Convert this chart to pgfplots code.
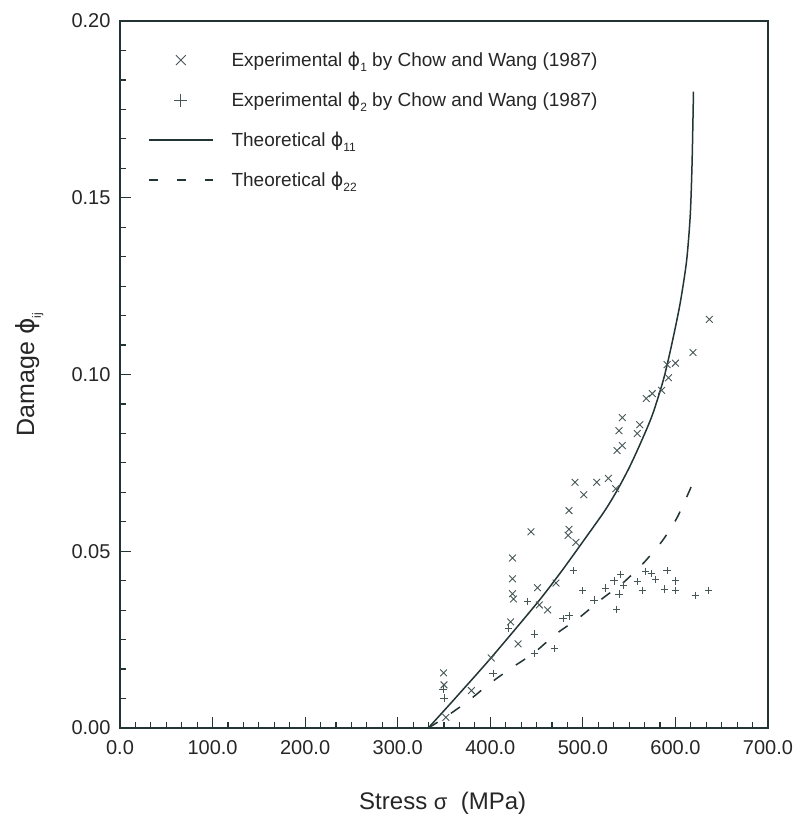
\documentclass[border=0pt]{standalone}
\usepackage{fontspec}
\setmainfont{Liberation Sans}
\newfontfamily\dv{DejaVu Sans}
\usepackage{pgfplots}
\pgfplotsset{compat=1.18}
\definecolor{ink}{RGB}{35,52,52}
\definecolor{mk}{RGB}{70,86,86}
\newcommand{\ph}{{\dv ϕ}}
\newcommand{\sub}[1]{\raisebox{-0.5ex}{\fontsize{12}{12}\selectfont #1}}
\pgfplotsset{
  xleg/.style={legend image code/.code={\draw[mk, line width=0.9pt] plot[mark=x, mark size=7pt, only marks] coordinates {(32pt,0pt)};}},
  pleg/.style={legend image code/.code={\draw[mk, line width=0.9pt] plot[mark=+, mark size=6.5pt, only marks] coordinates {(32pt,0pt)};}},
  sleg/.style={legend image code/.code={\draw[##1] (0pt,0pt) -- (64pt,0pt);}},
  dleg/.style={legend image code/.code={\draw[##1, dash pattern=on 9pt off 19pt] (0pt,0pt) -- (64pt,0pt);}},
}
\begin{document}
\begin{tikzpicture}
\begin{axis}[
  at={(0pt,0pt)}, anchor=south west,
  scale only axis, width=648pt, height=707pt,
  xmin=0, xmax=700, ymin=0, ymax=0.2,
  xtick={0,100,...,700}, ytick={0,0.05,0.10,0.15,0.20},
  minor x tick num=5, minor y tick num=5,
  tick align=inside, xtick pos=bottom, ytick pos=left,
  major tick length=11pt, minor tick length=6pt,
  axis line style={ink, line width=1.8pt},
  every tick/.style={ink, line width=1.2pt},
  scaled x ticks=false, scaled y ticks=false,
  xticklabel style={yshift=-9pt, /pgf/number format/.cd, fixed, fixed zerofill, precision=1, assume math mode=true},
  yticklabel style={xshift=-6pt, /pgf/number format/.cd, fixed, fixed zerofill, precision=2, assume math mode=true},
  ticklabel style={font=\fontsize{20}{20}\selectfont, text=black!85},
  xlabel={Stress {\fontsize{22}{22}\selectfont σ}\ \ (MPa)},
  ylabel={Damage \ph\sub{ij}},
  label style={font=\fontsize{24}{24}\selectfont, text=black!85},
  ylabel style={font=\fontsize{25}{25}\selectfont},
  xlabel style={at={(axis description cs:0.498,-0.106)}, anchor=center},
  ylabel style={at={(axis description cs:-0.14,0.5)}, anchor=center},
  legend style={draw=none, fill=none, at={(axis description cs:0.043,0.959)}, anchor=north west,
    font=\fontsize{19}{22}\selectfont, text=black!85, row sep=20pt, inner sep=0pt,
    /tikz/every odd column/.append style={column sep=16pt}},
  legend cell align=left,
  clip=false,
]
\addplot[only marks, mark=x, mark size=4.8pt, mk, mark options={line width=0.9pt}, xleg]
  coordinates {
  (349.5,0.0156) (350,0.0122) (352,0.0030) (379.6,0.0106) (401,0.0198) (422,0.0300)
  (430,0.0238) (424,0.0481) (424,0.0422) (424,0.0380) (425,0.0365) (444,0.0555)
  (451,0.0397) (453,0.0348) (462,0.0334) (471,0.0410)
  (485,0.0615) (485,0.0562) (484,0.0545) (492.5,0.0525)
  (491.5,0.0695) (501,0.0660) (515,0.0695) (527.6,0.0706) (535.5,0.0677)
  (537,0.0785) (542.6,0.0799) (539,0.0841) (542.6,0.0878) (558.8,0.0833) (561.5,0.0858)
  (568.5,0.0932) (575,0.0946) (585,0.0955) (592.5,0.0991) (591,0.1028) (600,0.1032)
  (619,0.1062) (636.6,0.1156)
  };
\addlegendentry{Experimental \ph\sub{1} by Chow and Wang (1987)}
\addplot[only marks, mark=+, mark size=3.6pt, mk, mark options={line width=0.9pt}, pleg]
  coordinates {
  (349,0.0110) (350,0.0085) (403,0.0154) (420,0.0283) (440.5,0.0358)
  (448,0.0266) (448,0.0210) (469,0.0224) (478.5,0.0309) (485,0.0317)
  (489.6,0.0445) (499.6,0.0388) (512,0.0362) (524.7,0.0396) (533.7,0.0416)
  (540.9,0.0435) (539,0.0379) (536.6,0.0336) (544,0.0402) (558.8,0.0415)
  (564,0.0390) (567.7,0.0443) (573.8,0.0437) (578.5,0.0420) (591,0.0445)
  (588,0.0393) (600,0.0416) (600,0.0390) (621.5,0.0374) (636,0.0390)
  };
\addlegendentry{Experimental \ph\sub{2} by Chow and Wang (1987)}
\addplot[ink, line width=1.5pt, smooth, tension=0.45, sleg]
  coordinates {
  (333,0) (360,0.0078) (401,0.0199) (451,0.0355) (476,0.0440) (500,0.0527)
  (523,0.0612) (537,0.0672) (550,0.0736) (562,0.0804) (575,0.0885) (587,0.0985)
  (596,0.1085) (605,0.1200) (612,0.1320) (616,0.1450) (618,0.1600) (619.5,0.1800)
  };
\addlegendentry{Theoretical \ph\sub{11}}
\addplot[ink, line width=1.5pt, dash pattern=on 11pt off 16pt, smooth, tension=0.4, dleg]
  coordinates {
  (333,0) (350,0.0028) (376,0.0076) (399,0.0125) (423,0.0170) (447,0.0212)
  (471,0.0266) (496,0.0312) (519,0.0362) (544,0.0412) (566,0.0468) (586,0.0530)
  (602,0.0596) (618,0.0688)
  };
\addlegendentry{Theoretical \ph\sub{22}}
\end{axis}
\pgfresetboundingbox
\path[use as bounding box] (-120pt,-94pt) rectangle (676pt,728pt);
\end{tikzpicture}
\end{document}
